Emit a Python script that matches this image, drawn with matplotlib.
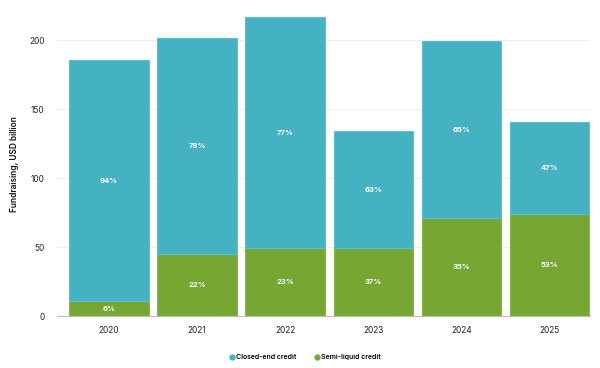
import matplotlib
matplotlib.use("Agg")
import matplotlib.pyplot as plt
import numpy as np

plt.rcParams['font.family'] = ['Inter', 'DejaVu Sans']

years = ["2020", "2021", "2022", "2023", "2024", "2025"]
semi_liquid = [10.9, 45, 49, 49, 71, 74]
closed_end = [174.6, 156.4, 167.7, 85, 128, 66.6]
closed_pct = ["94%", "78%", "77%", "63%", "65%", "47%"]
semi_pct = ["6%", "22%", "23%", "37%", "35%", "53%"]

c_closed = "#44B2C3"
c_semi = "#77A733"

fig = plt.figure(figsize=(6, 3.68), dpi=100)
ax = fig.add_axes([0.095, 0.141, 0.888, 0.825])

x = np.arange(len(years))
w = 0.9
ax.bar(x, semi_liquid, width=w, color=c_semi, edgecolor="#86B548", linewidth=0.8, zorder=3)
ax.bar(x, closed_end, width=w, bottom=semi_liquid, color=c_closed, edgecolor="#5CC0CF", linewidth=0.8, zorder=3)

for i in range(len(years)):
    ax.text(x[i], semi_liquid[i] / 2, semi_pct[i], ha="center", va="center",
            color="white", fontsize=5.5, fontweight="bold", zorder=4)
    ax.text(x[i], semi_liquid[i] + closed_end[i] / 2, closed_pct[i], ha="center", va="center",
            color="white", fontsize=5.5, fontweight="bold", zorder=4)

ax.set_xlim(-0.59, 5.46)
ax.set_ylim(0, 220)
ax.set_yticks([0, 50, 100, 150, 200])
ax.set_xticks(x)
ax.set_xticklabels(years)
ax.tick_params(axis="both", length=0, labelsize=6, colors="#222222")
ax.tick_params(axis="y", pad=9)
ax.tick_params(axis="x", pad=7)
ax.grid(axis="y", color="#EEEEEE", linewidth=0.7, zorder=0)
for s in ["top", "right", "left"]:
    ax.spines[s].set_visible(False)
ax.spines["bottom"].set_color("#BBBBBB")
ax.spines["bottom"].set_linewidth(0.8)
ax.spines["bottom"].set_zorder(5)

ax.set_ylabel("Fundraising, USD billion", fontsize=6, fontweight="semibold", color="#111111", labelpad=7)

from matplotlib.lines import Line2D
handles = [Line2D([], [], marker="o", linestyle="", color=c_closed, markersize=3.5),
           Line2D([], [], marker="o", linestyle="", color=c_semi, markersize=3.5)]
fig.legend(handles, ["Closed-end credit", "Semi-liquid credit"], loc="center",
           bbox_to_anchor=(0.508, 0.03), ncol=2, frameon=False,
           prop={"size": 5, "weight": "semibold"},
           handletextpad=0.15, columnspacing=2.4, handlelength=1.0)

fig.savefig("out.png", dpi=100)
